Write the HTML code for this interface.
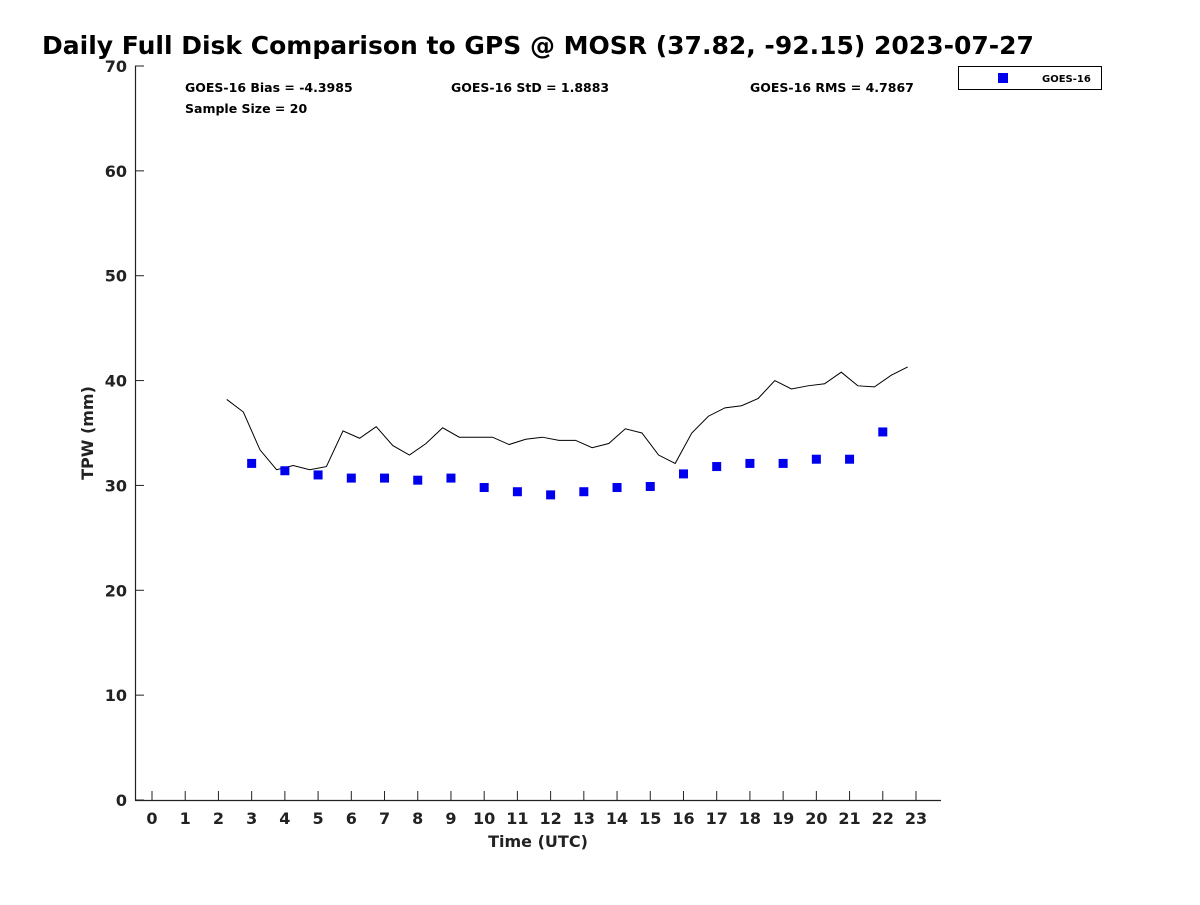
<!DOCTYPE html>
<html><head><meta charset="utf-8"><style>
body{margin:0;background:#fff}
text{font-family:"DejaVu Sans","Liberation Sans",sans-serif;font-weight:bold;fill:#222}
</style></head><body>
<svg id="chart" width="1200" height="900" xmlns="http://www.w3.org/2000/svg">
<rect width="1200" height="900" fill="#fff"/>
<text x="42" y="54" font-size="25" style="fill:#000">Daily Full Disk Comparison to GPS @ MOSR (37.82, -92.15) 2023-07-27</text>
<g id="axes"></g>
<g id="marks"></g>
<text x="185" y="92" font-size="12.5" style="fill:#000">GOES-16 Bias = -4.3985</text>
<text x="451" y="92" font-size="12.5" style="fill:#000">GOES-16 StD = 1.8883</text>
<text x="750" y="92" font-size="12.5" style="fill:#000">GOES-16 RMS = 4.7867</text>
<text x="185" y="113" font-size="12.5" style="fill:#000">Sample Size = 20</text>
<g>
<rect x="958.5" y="66.5" width="143" height="23" fill="#fff" stroke="#000" stroke-width="1"/>
<rect x="998" y="73" width="10" height="10" fill="#0000ee"/>
<text x="1042" y="82" font-size="10" style="fill:#000">GOES-16</text>
</g>
<text x="538" y="847" font-size="16" text-anchor="middle">Time (UTC)</text>
<text transform="translate(93,433) rotate(-90)" font-size="16" text-anchor="middle">TPW (mm)</text>
</svg>
<script>
const gpsTimes=[2.25,2.75,3.25,3.75,4.25,4.75,5.25,5.75,6.25,6.75,7.25,7.75,8.25,8.75,9.25,9.75,10.25,10.75,11.25,11.75,12.25,12.75,13.25,13.75,14.25,14.75,15.25,15.75,16.25,16.75,17.25,17.75,18.25,18.75,19.25,19.75,20.25,20.75,21.25,21.75,22.25,22.75];
const gpsTPW=[38.2,37.0,33.4,31.5,31.9,31.5,31.8,35.2,34.5,35.6,33.8,32.9,34.0,35.5,34.6,34.6,34.6,33.9,34.4,34.6,34.3,34.3,33.6,34.0,35.4,35.0,32.9,32.1,35.0,36.6,37.4,37.6,38.3,40.0,39.2,39.5,39.7,40.8,39.5,39.4,40.5,41.3];
const goesTimes=[3,4,5,6,7,8,9,10,11,12,13,14,15,16,17,18,19,20,21,22];
const goesTPW=[32.1,31.4,31.0,30.7,30.7,30.5,30.7,29.8,29.4,29.1,29.4,29.8,29.9,31.1,31.8,32.1,32.1,32.5,32.5,35.1];
const xTicks=[0,1,2,3,4,5,6,7,8,9,10,11,12,13,14,15,16,17,18,19,20,21,22,23];
const yTicks=[0,10,20,30,40,50,60,70];
const NS="http://www.w3.org/2000/svg";
const X=v=>152+v*(916-152)/23;
const Y=v=>800-v*(800-66)/70;
function mk(tag,attrs,parent){const e=document.createElementNS(NS,tag);for(const k in attrs)e.setAttribute(k,attrs[k]);parent.appendChild(e);return e;}
const axes=document.getElementById('axes'),marks=document.getElementById('marks');
let a=mk('line',{x1:135.5,y1:66,x2:135.5,y2:800.5,stroke:'#222','stroke-width':1.2},axes);


a=mk('line',{x1:135,y1:800.5,x2:941,y2:800.5,stroke:'#222','stroke-width':1.2},axes);


xTicks.forEach(t=>{
 const l=mk('line',{x1:X(t),y1:791,x2:X(t),y2:800,stroke:'#222','stroke-width':1},axes);
 
 
 const tx=mk('text',{x:X(t),y:824,'font-size':16,'text-anchor':'middle'},axes);tx.textContent=t;
 
 
});
yTicks.forEach(t=>{
 const l=mk('line',{x1:135,y1:Y(t),x2:144,y2:Y(t),stroke:'#222','stroke-width':1},axes);
 
 
 const tx=mk('text',{x:127,y:Y(t)+6,'font-size':16,'text-anchor':'end'},axes);tx.textContent=t;
 
 
});
const pl=mk('polyline',{points:gpsTimes.map((t,i)=>X(t)+','+Y(gpsTPW[i])).join(' '),fill:'none',stroke:'#000','stroke-width':1},marks);


goesTimes.forEach((t,i)=>{
 const r=mk('rect',{x:X(t)-4.5,y:Y(goesTPW[i])-4.5,width:9,height:9,fill:'#0000ee'},marks);
 
 
});
</script>
</body></html>
